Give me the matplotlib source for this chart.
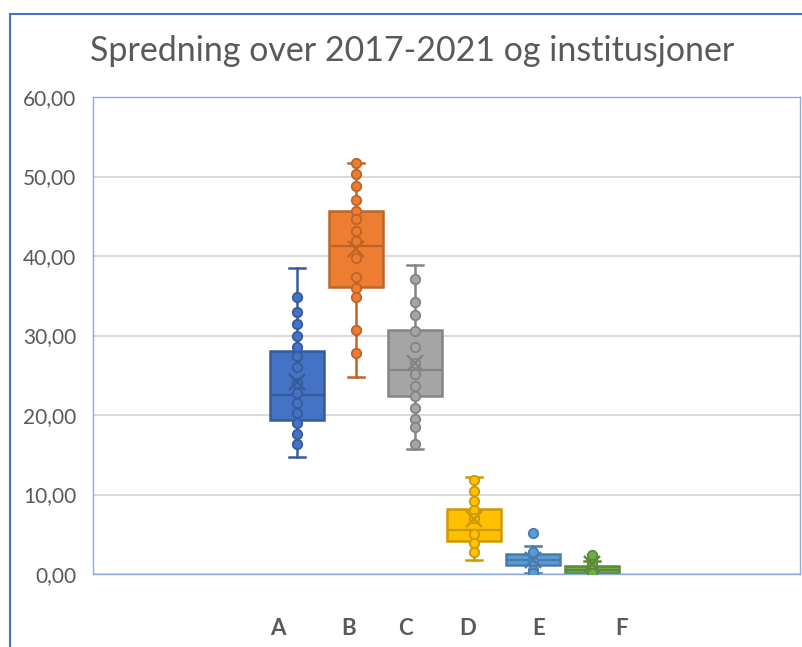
import matplotlib.pyplot as plt
from matplotlib.lines import Line2D
import numpy as np

# categories and per-group values
groups = ["A", "B", "C", "D", "E", "F"]
colors = ["#4472C4", "#ED7D31", "#A5A5A5", "#FFC000", "#5B9BD5", "#70AD47"]

q1 = [19.4, 36.1, 22.4, 4.2, 1.1, 0.15]
med = [22.5, 41.2, 25.6, 5.5, 1.75, 0.5]
q3 = [28.1, 45.6, 30.65, 8.2, 2.5, 1.0]
whislo = [14.7, 24.8, 15.7, 1.76, 0.08, 0.0]
whishi = [38.45, 51.65, 38.9, 12.2, 3.5, 1.6]
means = [24.1, 40.9, 26.6, 6.9, 1.7, 1.26]

pts_a = [34.8, 32.9, 31.5, 30.0, 28.6, 27.4, 26.0, 24.0, 22.8, 21.5, 20.2, 19.0, 17.6, 16.4]
pts_b = [51.65, 50.3, 48.8, 47.1, 45.7, 44.6, 43.1, 41.9, 39.7, 37.4, 36.0, 34.8, 30.7, 27.8]
pts_c = [37.1, 34.2, 32.6, 30.6, 28.5, 26.6, 25.2, 23.6, 22.4, 20.9, 19.5, 18.5, 16.3]
pts_d = [11.8, 10.4, 9.2, 8.1, 7.0, 5.0, 3.9, 2.8]
pts_e = [5.2, 2.8, 1.6, 0.5, 0.08]
pts_f = [2.4, 1.26, 0.1]
points = [pts_a, pts_b, pts_c, pts_d, pts_e, pts_f]

yticks = [0, 10, 20, 30, 40, 50, 60]
label_pos = [0.68, 1.88, 2.84, 3.90, 5.10, 6.49]

def darker(c, f=0.8):
    r, g, b = int(c[1:3], 16), int(c[3:5], 16), int(c[5:7], 16)
    return (r * f / 255, g * f / 255, b * f / 255)

plt.rcParams['font.family'] = ['Lato', 'DejaVu Sans']
txt = "#595959"

fig = plt.figure(figsize=(8.03, 6.47), dpi=100)
ax = fig.add_axes([93 / 803, 1 - 574 / 647, 707 / 803, 477 / 647])

pos = np.arange(1, len(groups) + 1)
for i in range(len(groups)):
    ec = darker(colors[i])
    st = dict(med=med[i], q1=q1[i], q3=q3[i], whislo=whislo[i], whishi=whishi[i],
              mean=means[i], fliers=[])
    ax.bxp([st], positions=[pos[i]], widths=0.91, patch_artist=True, showmeans=True,
           boxprops=dict(facecolor=colors[i], edgecolor=ec, linewidth=1.8),
           medianprops=dict(color=ec, linewidth=1.6),
           whiskerprops=dict(color=ec, linewidth=1.8),
           capprops=dict(color=ec, linewidth=1.8),
           capwidths=0.27,
           meanprops=dict(marker="x", markeredgecolor=ec, markersize=12, markeredgewidth=1.7,
                          zorder=6),
           manage_ticks=False)
    ax.plot([pos[i]] * len(points[i]), points[i], "o", color=colors[i],
            markeredgecolor=ec, markersize=6.8, markeredgewidth=1.3, zorder=5)

ax.set_xlim(-2.447, 9.516)
ax.set_ylim(0, 60)
ax.set_yticks(yticks)
ax.set_yticklabels([f"{v:.2f}".replace(".", ",") for v in yticks], color=txt, fontsize=15)
ax.set_xticks(label_pos)
ax.set_xticklabels(groups, color=txt, fontsize=16, fontweight="bold")
ax.tick_params(axis="both", length=0)
ax.tick_params(axis="x", pad=32)
ax.tick_params(axis="y", pad=12)
ax.grid(axis="y", color="#D9D9D9", linewidth=1.4)
ax.set_axisbelow(True)
for s in ax.spines.values():
    s.set_color("#8FAADC")
    s.set_linewidth(1.0)

fig.text(412 / 803, 1 - 51 / 647, "Spredning over 2017-2021 og institusjoner",
         ha="center", va="center", fontsize=24.5, color=txt)

# outer chart border (cropped at right and bottom)
fig.add_artist(Line2D([10 / 803, 10 / 803], [0, 1 - 14 / 647], color="#4472C4", linewidth=1.5))
fig.add_artist(Line2D([10 / 803, 1], [1 - 14 / 647, 1 - 14 / 647], color="#4472C4", linewidth=1.5))

fig.savefig("out.png", dpi=100)
